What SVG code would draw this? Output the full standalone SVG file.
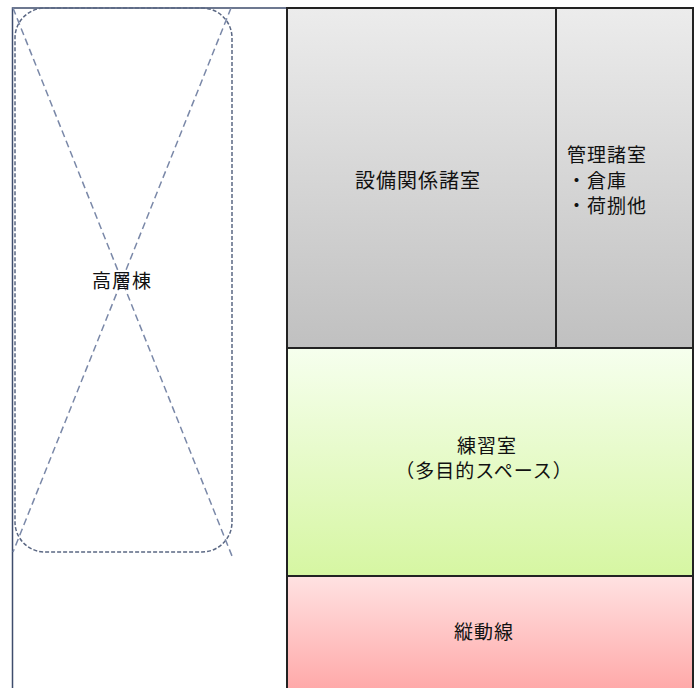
<svg xmlns="http://www.w3.org/2000/svg" width="695" height="688" viewBox="0 0 695 688">
<defs>
<linearGradient id="gGray" x1="0" y1="0" x2="0" y2="1"><stop offset="0" stop-color="#ececec"/><stop offset="1" stop-color="#c0c0c0"/></linearGradient>
<linearGradient id="gGreen" x1="0" y1="0" x2="0" y2="1"><stop offset="0" stop-color="#f6ffee"/><stop offset="1" stop-color="#d6f6a2"/></linearGradient>
<linearGradient id="gRed" x1="0" y1="0" x2="0" y2="1"><stop offset="0" stop-color="#ffe2e2"/><stop offset="1" stop-color="#ffa6a6"/></linearGradient>
<style>
text{font-family:"Noto Sans CJK JP","Noto Sans CJK SC",sans-serif;font-size:19px;letter-spacing:1px;fill:#111;}
.room{stroke:#222;stroke-width:2;}
.dash{fill:none;stroke:#5b6884;stroke-width:1.5;stroke-dasharray:4 2;}
.cross{fill:none;stroke:#7a88a8;stroke-width:1.5;stroke-dasharray:7 4;}
</style>
</defs>
<rect width="695" height="688" fill="#fff"/>
<g id="tower-site">
<rect x="12.5" y="8" width="274.5" height="684" fill="#fff" stroke="#3e4c6c" stroke-width="1.5"/>
</g>
<g id="tower">
<rect x="15" y="8" width="217" height="544" rx="30" ry="30" class="dash"/>
<line x1="13" y1="8" x2="232" y2="556" class="cross"/>
<line x1="231" y1="8" x2="13" y2="552" class="cross"/>
<text x="122" y="288" text-anchor="middle">高層棟</text>
</g>
<g id="equipment">
<rect x="287" y="8" width="269" height="340" fill="url(#gGray)" class="room"/>
<text x="418" y="188" text-anchor="middle" style="font-size:20px">設備関係諸室</text>
</g>
<g id="management">
<rect x="556" y="8" width="137" height="340" fill="url(#gGray)" class="room"/>
<text x="567" y="162">管理諸室</text>
<text x="567" y="188">・倉庫</text>
<text x="567" y="213">・荷捌他</text>
</g>
<g id="practice">
<rect x="287" y="348" width="406" height="228" fill="url(#gGreen)" class="room"/>
<text x="487" y="453" text-anchor="middle">練習室</text>
<text x="484" y="478" text-anchor="middle">（多目的スペース）</text>
</g>
<g id="circulation">
<rect x="287" y="576" width="406" height="120" fill="url(#gRed)" class="room"/>
<text x="484" y="639" text-anchor="middle">縦動線</text>
</g>
<g id="connectors"></g>
</svg>
